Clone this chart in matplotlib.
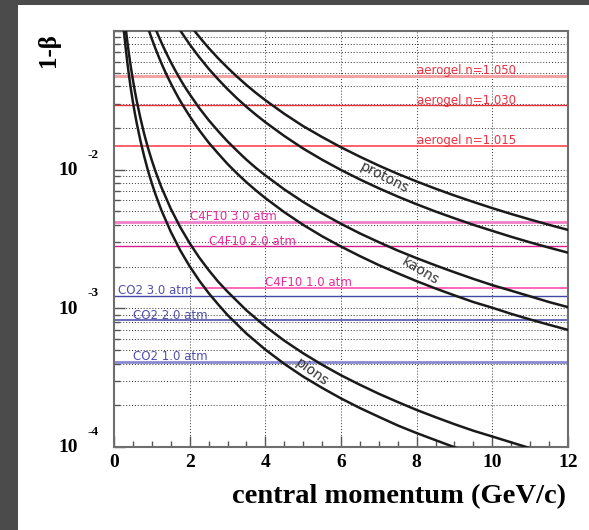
import numpy as np
import matplotlib.pyplot as plt
from matplotlib.patches import Rectangle
from matplotlib.ticker import MultipleLocator, LogLocator, NullFormatter

# momentum (GeV/c) and 1-beta, two curves per particle
pion_p_lo = [0.22, 0.25, 0.3, 0.35, 0.4, 0.45, 0.5, 0.55, 0.6, 0.7, 0.8, 0.9, 1.0, 1.1, 1.25, 1.5, 1.75,
             2, 2.25, 2.5, 2.75, 3, 3.5, 4, 4.5, 5, 5.5, 6, 6.5, 7, 7.5, 8, 8.5, 9, 9.5]
pion_lo = [0.134, 0.108, 0.0791, 0.0600, 0.0469, 0.0376, 0.0308, 0.0256, 0.0217, 0.0161, 0.0124, 0.00981,
           0.00797, 0.00660, 0.00512, 0.00357, 0.00262, 0.00201, 0.00159, 0.00129, 0.00107, 0.000895,
           0.000658, 0.000504, 0.000398, 0.000322, 0.000267, 0.000224, 0.000191, 0.000165, 0.000143,
           0.000126, 0.000112, 0.0000996, 0.0000894]
pion_p_hi = [0.25, 0.3, 0.35, 0.4, 0.45, 0.5, 0.55, 0.6, 0.7, 0.8, 0.9, 1.0, 1.1, 1.25, 1.5, 1.75, 2,
             2.25, 2.5, 2.75, 3, 3.5, 4, 4.5, 5, 5.5, 6, 6.5, 7, 7.5, 8, 8.5, 9, 9.5, 10, 10.5, 11, 11.5]
pion_hi = [0.149, 0.110, 0.0847, 0.0668, 0.0539, 0.0443, 0.0370, 0.0314, 0.0234, 0.0180, 0.0143, 0.01165,
           0.00966, 0.00750, 0.00523, 0.00385, 0.00295, 0.00233, 0.00189, 0.00156, 0.00132, 0.000967,
           0.000741, 0.000585, 0.000474, 0.000392, 0.000329, 0.000281, 0.000242, 0.000211, 0.000185,
           0.000164, 0.000146, 0.000131, 0.000119, 0.000108, 0.0000980, 0.0000897]

kaon_p_lo = [0.85, 0.9, 1.0, 1.1, 1.2, 1.3, 1.4, 1.5, 1.6, 1.7, 1.8, 2.0, 2.25, 2.5, 2.75, 3, 3.25, 3.5,
             3.75, 4, 4.5, 5, 5.5, 6, 6.5, 7, 7.5, 8, 8.5, 9, 9.5, 10, 10.5, 11, 11.5, 12]
kaon_lo = [0.116, 0.105, 0.0877, 0.0741, 0.0634, 0.0547, 0.0477, 0.0420, 0.0372, 0.0331, 0.0297, 0.0243,
           0.0193, 0.0157, 0.0131, 0.0110, 0.00940, 0.00812, 0.00709, 0.00624, 0.00494, 0.00400,
           0.00331, 0.00279, 0.00238, 0.00205, 0.00179, 0.00157, 0.00139, 0.00124, 0.00111, 0.00101,
           0.000912, 0.000831, 0.000761, 0.000699]
kaon_p_hi = [1.0, 1.1, 1.2, 1.3, 1.4, 1.5, 1.6, 1.7, 1.8, 1.9, 2.0, 2.25, 2.5, 2.75, 3, 3.25, 3.5, 3.75,
             4, 4.5, 5, 5.5, 6, 6.5, 7, 7.5, 8, 8.5, 9, 9.5, 10, 10.5, 11, 11.5, 12]
kaon_hi = [0.121, 0.103, 0.0890, 0.0773, 0.0677, 0.0597, 0.0531, 0.0474, 0.0426, 0.0385, 0.0350, 0.0279,
           0.0228, 0.0190, 0.0160, 0.0137, 0.0118, 0.0103, 0.00909, 0.00721, 0.00585, 0.00484, 0.00407,
           0.00347, 0.00300, 0.00261, 0.00230, 0.00204, 0.00182, 0.00163, 0.00147, 0.00134, 0.00122,
           0.00111, 0.00102]

proton_p_lo = [1.6, 1.7, 1.8, 2.0, 2.25, 2.5, 2.75, 3, 3.25, 3.5, 3.75, 4, 4.5, 5, 5.5, 6, 6.5, 7, 7.5,
               8, 8.5, 9, 9.5, 10, 10.5, 11, 11.5, 12]
proton_lo = [0.118, 0.106, 0.0963, 0.0801, 0.0649, 0.0535, 0.0449, 0.0381, 0.0327, 0.0284, 0.0249, 0.0220,
             0.0175, 0.0142, 0.0118, 0.00995, 0.00850, 0.00734, 0.00640, 0.00563, 0.00499, 0.00446,
             0.00400, 0.00362, 0.00328, 0.00299, 0.00274, 0.00252]
proton_p_hi = [2.0, 2.1, 2.2, 2.35, 2.5, 2.75, 3, 3.25, 3.5, 3.75, 4, 4.5, 5, 5.5, 6, 6.5, 7, 7.5, 8,
               8.5, 9, 9.5, 10, 10.5, 11, 11.5, 12]
proton_hi = [0.111, 0.1025, 0.0946, 0.0844, 0.0756, 0.0637, 0.0544, 0.0469, 0.0408, 0.0358, 0.0317, 0.0253,
             0.0206, 0.0172, 0.0145, 0.0124, 0.0107, 0.00933, 0.00822, 0.00729, 0.00651, 0.00585,
             0.00528, 0.00479, 0.00437, 0.00400, 0.00368]

# cherenkov thresholds (1-beta)
aerogel_labels = ['aerogel n=1.050', 'aerogel n=1.030', 'aerogel n=1.015']
aerogel_thr = [0.0476, 0.0291, 0.0148]
c4f10_labels = ['C4F10 3.0 atm', 'C4F10 2.0 atm', 'C4F10 1.0 atm']
c4f10_thr = [0.0042, 0.0028, 0.0014]
co2_labels = ['CO2 3.0 atm', 'CO2 2.0 atm', 'CO2 1.0 atm']
co2_thr = [0.00123, 0.00082, 0.00041]

serif = 'Liberation Serif'

fig = plt.figure(figsize=(5.89, 5.30), dpi=100, facecolor='#4b4b4b')
bg = Rectangle((18 / 589, 0), 1, 1 - 5 / 530, transform=fig.transFigure,
               facecolor='white', edgecolor='none', zorder=-10)
fig.add_artist(bg)
ax = fig.add_axes([114 / 589, 83 / 530, 454 / 589, 416 / 530])
ax.set_zorder(1)
ax.patch.set_alpha(0)
ax.set_yscale('log')
ax.set_xlim(0, 12)
ax.set_ylim(1e-4, 1e-1)

ax.xaxis.set_major_locator(MultipleLocator(2))
ax.xaxis.set_minor_locator(MultipleLocator(0.5))
ax.yaxis.set_major_locator(LogLocator(base=10))
ax.yaxis.set_minor_locator(LogLocator(base=10, subs=np.arange(2, 10)))
ax.yaxis.set_major_formatter(NullFormatter())
ax.yaxis.set_minor_formatter(NullFormatter())

gs = dict(color='#333333', lw=0.7, linestyle=(0, (1, 2)))
ax.xaxis.grid(True, which='major', **gs)
ax.yaxis.grid(True, which='both', **gs)
ax.set_axisbelow(True)

ax.tick_params(axis='both', which='major', direction='in', length=8, width=1, color='#555555')
ax.tick_params(axis='both', which='minor', direction='in', length=4, width=1, color='#555555')
ax.tick_params(right=False, top=False)
ax.tick_params(axis='x', pad=5)
for lab in ax.get_xticklabels():
    lab.set_fontfamily(serif)
    lab.set_fontweight('bold')
    lab.set_fontsize(14)
for sp in ax.spines.values():
    sp.set_color('#6e6e6e')
    sp.set_linewidth(1.5)

# threshold lines
ae_col = ['#f4a4a4', '#e8303c', '#ff4450']
ae_lw = [2.2, 1.0, 1.2]
for thr, c, lw in zip(aerogel_thr, ae_col, ae_lw):
    ax.axhline(thr, color=c, lw=lw, zorder=2)
c4_col = ['#f080c8', '#d81c8c', '#ff5cb4']
c4_lw = [2.0, 1.0, 1.3]
for i, (thr, c, lw) in enumerate(zip(c4f10_thr, c4_col, c4_lw)):
    if i == 2:
        ax.hlines(thr, 2.15, 12, color=c, lw=lw, zorder=2)
    else:
        ax.axhline(thr, color=c, lw=lw, zorder=2)
co_col = ['#4646a6', '#5252aa', '#8a8ad0']
co_lw = [1.0, 1.2, 2.0]
for thr, c, lw in zip(co2_thr, co_col, co_lw):
    ax.axhline(thr, color=c, lw=lw, zorder=2)

fs_lab = 8.5
for lab, thr in zip(aerogel_labels, aerogel_thr):
    ax.text(8.0, thr * 1.03, lab, color='#f03040', fontsize=fs_lab, va='baseline', ha='left', zorder=3)
for lab, thr, x in zip(c4f10_labels, c4f10_thr, [2.0, 2.5, 4.0]):
    ax.text(x, thr * 1.03, lab, color='#e8289c', fontsize=fs_lab, va='baseline', ha='left', zorder=3)
for lab, thr, x in zip(co2_labels, co2_thr, [0.1, 0.5, 0.5]):
    ax.text(x, thr * 1.03, lab, color='#5050b0', fontsize=fs_lab, va='baseline', ha='left', zorder=3)

# particle curves
for p, v in [(pion_p_lo, pion_lo), (pion_p_hi, pion_hi), (kaon_p_lo, kaon_lo), (kaon_p_hi, kaon_hi),
             (proton_p_lo, proton_lo), (proton_p_hi, proton_hi)]:
    ax.plot(p, v, color='#1a1a1a', lw=1.8, zorder=4, solid_joinstyle='round')

ax.text(7.14, 8.7e-3, 'protons', rotation=-27, ha='center', va='center', fontsize=10, color='#333333', zorder=5)
ax.text(8.09, 1.86e-3, 'kaons', rotation=-31, ha='center', va='center', fontsize=10, color='#333333', zorder=5)
ax.text(5.23, 3.47e-4, 'pions', rotation=-36, ha='center', va='center', fontsize=10, color='#333333', zorder=5)

# y tick labels in the 10^n style
for val, ex in [(1e-4, '-4'), (1e-3, '-3'), (1e-2, '-2')]:
    ax.annotate('10', xy=(0, val), xycoords=('axes fraction', 'data'), xytext=(-46, -1),
                textcoords='offset pixels', ha='center', va='center', fontfamily=serif,
                fontweight='bold', fontsize=14)
    ax.annotate(ex, xy=(0, val), xycoords=('axes fraction', 'data'), xytext=(-26, 15),
                textcoords='offset pixels', ha='left', va='center', fontfamily=serif,
                fontweight='bold', fontsize=9.5)

ax.text(-0.145, 0.995, '1-β', transform=ax.transAxes, rotation=90, ha='center', va='top',
        fontfamily=serif, fontweight='bold', fontsize=18)
ax.text(0.9956, -0.120, 'central momentum (GeV/c)', transform=ax.transAxes, ha='right', va='center',
        fontfamily=serif, fontweight='bold', fontsize=20.5)

fig.savefig('out.png', dpi=100, facecolor=fig.get_facecolor())
